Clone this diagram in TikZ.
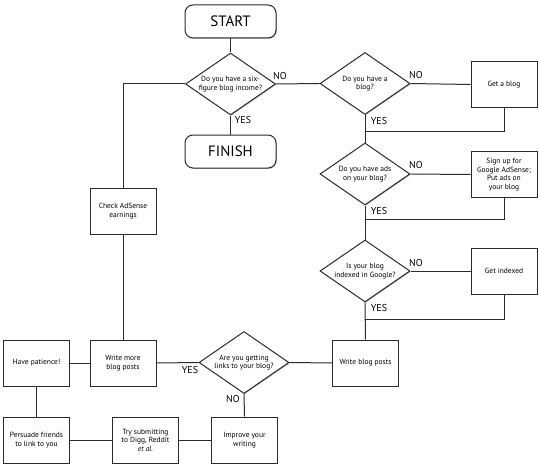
\documentclass[tikz,border=0pt]{standalone}
\usepackage{fontspec}
\setmainfont{PT Sans}
\usepackage{tikz}
\usetikzlibrary{positioning,shapes.geometric,shadows}
\definecolor{Ink}{HTML}{2B2B2B}
\definecolor{Shade}{HTML}{9A9A9A}
\tikzset{
 box/.style={draw=Ink, line width=1pt, fill=white, minimum width=66pt, minimum height=46pt, align=center, inner sep=1pt, font=\fontsize{7.5}{8.5}\selectfont, drop shadow={shadow xshift=0.8pt, shadow yshift=-0.8pt, fill=Shade, opacity=0.7}},
 terminal/.style={box, rounded corners=8pt, minimum width=91pt, minimum height=33pt, font=\fontsize{15}{17}\selectfont},
 decision/.style={box, diamond, aspect=1.45, minimum width=90pt, minimum height=62pt, inner sep=0pt},
 link/.style={draw=Ink, line width=1pt},
 answer/.style={font=\fontsize{10}{11}\selectfont, inner sep=0pt}
}
\begin{document}
\begin{tikzpicture}[x=1pt,y=-1pt]
\useasboundingbox (0,0) rectangle (540,468);
% main question
\node[terminal] (start) at (230.5,21.5) {START};
\node[decision] (income) at (230.5,84) {Do you have a six-\\figure blog income?};
\node[terminal] (finish) at (230.5,151.5) {FINISH};
% right column
\node[decision] (hasblog) at (365,83.5) {Do you have a\\blog?};
\node[box] (getblog) at (504,84.5) {Get a blog};
\node[decision] (hasads) at (365,174) {Do you have ads\\on your blog?};
\node[box] (signup) at (504,174.5) {Sign up for\\Google AdSense;\\Put ads on\\your blog};
\node[decision] (indexed) at (365,271) {Is your blog\\indexed in Google?};
\node[box] (getindexed) at (504,271) {Get indexed};
\node[box] (write) at (365.5,363) {Write blog posts};
% bottom loop
\node[decision] (links) at (244,362.5) {Are you getting\\links to your blog?};
\node[box] (improve) at (244.5,440) {Improve your\\writing};
\node[box] (submit) at (145.5,440) {Try submitting\\to Digg, Reddit\\\textit{et al.}};
\node[box] (persuade) at (36.5,440) {Persuade friends\\to link to you};
\node[box] (patience) at (36.5,363) {Have patience!};
\node[box] (writemore) at (123,363) {Write more\\blog posts};
\node[box] (check) at (123,211) {Check AdSense\\earnings};
% joins
\coordinate (j1) at (365,131.5);
\coordinate (j2) at (365,219);
\coordinate (j3) at (365,319);

\draw[link] (start) -- (income);
\draw[link] (income) -- (finish);
\draw[link] (income.east) -- (hasblog.west);
\draw[link] (hasblog.east) -- (getblog.west);
\draw[link] (hasblog.south) -- (hasads.north);
\draw[link] (getblog.south) |- (j1);
\draw[link] (hasads.east) -- (signup.west);
\draw[link] (hasads.south) -- (indexed.north);
\draw[link] (signup.south) |- (j2);
\draw[link] (indexed.east) -- (getindexed.west);
\draw[link] (indexed.south) -- (write.north);
\draw[link] (getindexed.south) |- (j3);
\draw[link] (write.west) -- (links.east);
\draw[link] (links.west) -- (writemore.east);
\draw[link] (links.south) -- (improve.north);
\draw[link] (improve.west) -- (submit.east);
\draw[link] (submit.west) -- (persuade.east);
\draw[link] (persuade.north) -- (patience.south);
\draw[link] (patience.east) -- (writemore.west);
\draw[link] (writemore.north) -- (check.south);
\draw[link] (check.north) |- (income.west);
% answers
\node[answer] (no1) at (280,76) {NO};
\node[answer] (yes1) at (243,120) {YES};
\node[answer] (no2) at (416,75) {NO};
\node[answer] (yes2) at (379,121) {YES};
\node[answer] (no3) at (416,165) {NO};
\node[answer] (yes3) at (379,211) {YES};
\node[answer] (no4) at (416,263) {NO};
\node[answer] (yes4) at (379,308) {YES};
\node[answer] (yes5) at (190,370) {YES};
\node[answer] (no5) at (233,399) {NO};
\end{tikzpicture}
\end{document}
